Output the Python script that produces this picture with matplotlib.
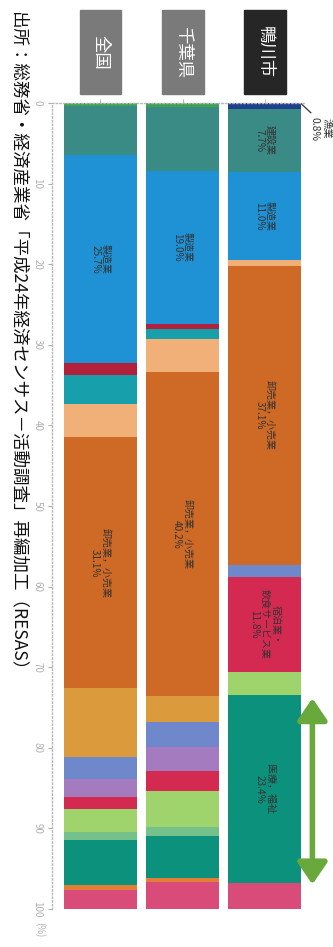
import numpy as np
import matplotlib
matplotlib.use('Agg')
import matplotlib.pyplot as plt
from matplotlib.patches import Rectangle, FancyArrowPatch

plt.rcParams['font.family'] = ['Noto Sans CJK JP', 'DejaVu Sans']

# areas (left to right)
areas = ['全国', '千葉県', '鴨川市']
box_colors = ['#7a7a7a', '#7a7a7a', '#262626']

# industries, stacked from top (0%) to bottom (100%)
industries = ['農林業', '漁業', '建設業', '製造業', '電気・ガス・熱供給・水道業',
              '情報通信業', '運輸業，郵便業', '卸売業，小売業', '金融業，保険業',
              '不動産業，物品賃貸業', '学術研究，専門・技術サービス業',
              '宿泊業，飲食サービス業', '生活関連サービス業，娯楽業',
              '教育，学習支援業', '医療，福祉', '複合サービス事業', 'サービス業']
colors = ['#3da253', '#1d3f8c', '#3a8a86', '#1f91d5', '#b3203b',
          '#17a0ab', '#f1b078', '#cf6a26', '#db9a3c',
          '#6f87cb', '#a47bbf',
          '#d42a52', '#9fd36c',
          '#74c18c', '#0c917c', '#e07f35', '#d94b78']

# shares (%) per area
zenkoku = [0.4, 0.0, 6.1, 25.7, 1.6, 3.5, 4.2, 31.1, 8.6, 2.7, 2.2, 1.5, 2.9, 0.9, 5.6, 0.6, 2.4]
chiba = [0.5, 0.0, 7.9, 19.0, 0.7, 1.2, 4.1, 40.2, 3.2, 3.1, 3.0, 2.4, 4.5, 1.2, 5.2, 0.5, 3.3]
kamogawa = [0.0, 0.8, 7.7, 11.0, 0.0, 0.0, 0.7, 37.1, 0.0, 1.5, 0.0, 11.8, 2.8, 0.0, 23.4, 0.0, 3.2]
shares = [zenkoku, chiba, kamogawa]

# labels inside segments: (area index, industry index, text)
seg_labels = [
    (0, 3, '製造業\n25.7%'),
    (0, 7, '卸売業，小売業\n31.1%'),
    (1, 3, '製造業\n19.0%'),
    (1, 7, '卸売業，小売業\n40.2%'),
    (2, 2, '建設業\n7.7%'),
    (2, 3, '製造業\n11.0%'),
    (2, 7, '卸売業，小売業\n37.1%'),
    (2, 11, '宿泊業・\n飲食サービス業\n11.8%'),
    (2, 14, '医療，福祉\n23.4%'),
]

source = '出所：総務省・経済産業省「平成24年経済センサス－活動調査」再編加工（RESAS）'

fig = plt.figure(figsize=(3.33, 9.47), dpi=100)
ax = fig.add_axes([52 / 333, 1 - 909 / 947, 253 / 333, 806 / 947])

x = np.arange(len(areas))
width = 0.89
for i in range(len(areas)):
    bottom = 0.0
    for j, v in enumerate(shares[i]):
        if v > 0:
            ax.bar(x[i], v, width=width, bottom=bottom, color=colors[j], linewidth=0)
        bottom += v

cum = [np.concatenate([[0], np.cumsum(s)]) for s in shares]
for i, j, txt in seg_labels:
    yc = (cum[i][j] + cum[i][j + 1]) / 2
    ax.text(x[i], yc, txt, rotation=270, ha='center', va='center',
            multialignment='center', fontsize=7.2, color='#333333', linespacing=1.1)

ax.set_xlim(-0.59, 2.49)
ax.set_ylim(100, 0)

# axes styling
for s in ['right', 'bottom']:
    ax.spines[s].set_visible(False)
for s in ['left', 'top']:
    ax.spines[s].set_color('#b8b8b8')
    ax.spines[s].set_linestyle(':')
    ax.spines[s].set_linewidth(1)
ax.set_yticks(np.arange(0, 101, 10))
ax.set_yticklabels([str(t) for t in range(0, 101, 10)], rotation=270, va='center')
ax.tick_params(axis='y', colors='#b0b0b0', labelsize=7, length=3, pad=4)
ax.xaxis.tick_top()
ax.set_xticks(x)
ax.set_xticklabels([])
ax.tick_params(axis='x', colors='#b8b8b8', length=3)
ax.text(-0.74, 102.6, '(%)', rotation=270, ha='center', va='center',
        fontsize=7, color='#b0b0b0', clip_on=False)

# area header boxes
for i, name in enumerate(areas):
    ax.add_patch(Rectangle((x[i] - 0.255, -1.1), 0.51, -10.4, color=box_colors[i],
                           clip_on=False, zorder=3))
    ax.text(x[i], -6.3, name, rotation=270, ha='center', va='center',
            fontsize=12.5, color='white', zorder=4, clip_on=False)

# small-share callout for 鴨川市
ax.plot([2.445, 2.56], [0.1, 1.2], color='#444444', lw=1, clip_on=False)
ax.text(2.68, 3.2, '漁業\n0.8%', rotation=270, ha='center', va='center',
        multialignment='center', fontsize=7.5, color='#333333', clip_on=False)

# green double arrow beside 医療，福祉
arr = FancyArrowPatch((2.58, 73.5), (2.58, 97.3),
                      arrowstyle='<|-|>,head_length=1.1,head_width=0.75',
                      mutation_scale=12, lw=4, color='#69a83b', clip_on=False)
ax.add_patch(arr)

fig.text(18 / 333, 1 - 12 / 947, source, rotation=270, ha='center', va='top',
         fontsize=12.6, color='#111111')

fig.savefig('out.png', dpi=100)
